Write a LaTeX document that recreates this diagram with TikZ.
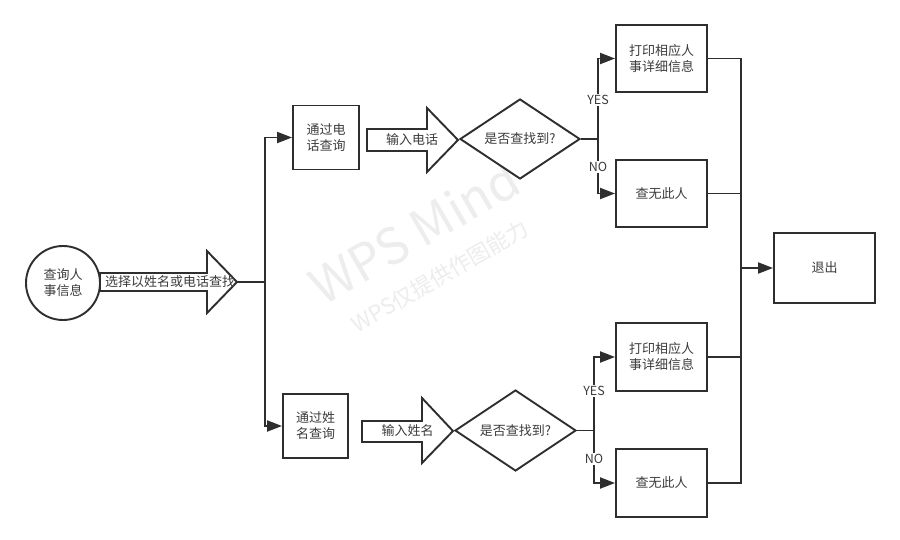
\documentclass[tikz,border=0pt]{standalone}
\usepackage{fontspec}
\setmainfont{Noto Sans CJK SC}
\usetikzlibrary{arrows.meta,shapes.geometric}
\definecolor{ln}{HTML}{2E2E2E}
\definecolor{tx}{HTML}{3C3C3C}
\definecolor{wm}{HTML}{EDEDED}
\begin{document}
\begin{tikzpicture}[x=1pt,y=-1pt,
  lbl/.style={font=\fontsize{13}{16}\selectfont, text=tx, align=center, inner sep=0pt},
  box/.style={lbl, draw=ln, line width=1.9pt, fill=white},
  dia/.style={lbl, draw=ln, line width=1.9pt, fill=white, diamond, aspect=1.5},
  bigarrow/.style={draw=ln, line width=1.9pt, fill=white, line join=miter},
  conn/.style={draw=ln, line width=1.9pt},
  arr/.style={conn, -{Triangle[length=15pt,width=11pt]}},
  yn/.style={font=\fontsize{12.5}{14}\selectfont, text=tx, fill=white, inner sep=1pt}
]
\useasboundingbox (0,0) rectangle (900,540);
\fill[white] (0,0) rectangle (900,540);
% watermark
\node[font=\fontsize{50}{56}\selectfont, text=wm, rotate=30] (wm1) at (414,232) {WPS Mind};
\node[font=\fontsize{22}{24}\selectfont, text=wm, rotate=30] (wm2) at (440,276) {WPS仅提供作图能力};

% start circle
\node[lbl, draw=ln, line width=1.9pt, circle, minimum size=74pt, fill=white] (start) at (63,283) {查询人\\事信息};

% big arrow 1
\draw[bigarrow] (100,273) -- (207,273) -- (207,251) -- (237,282) -- (207,313) -- (207,291) -- (100,291) -- cycle;
\coordinate (tip0) at (237,282);
\node[lbl] (a0) at (170,282) {选择以姓名或电话查找};

\coordinate (j1) at (265,282);
\draw[conn] (tip0) -- (j1);

% query boxes
\node[box, minimum width=66pt, minimum height=64pt] (q1) at (326,137.5) {通过电\\话查询};
\node[box, minimum width=65pt, minimum height=64pt] (q2) at (315.5,426) {通过姓\\名查询};
\draw[arr] (j1) |- (q1.west);
\draw[arr] (j1) |- (q2.west);

\draw[bigarrow] (367,129) -- (427,129) -- (427,108) -- (458,140) -- (427,172) -- (427,151) -- (367,151) -- cycle;
\node[lbl] (a1) at (412,140) {输入电话};
\draw[bigarrow] (362,421) -- (422,421) -- (422,398) -- (453,431) -- (422,463) -- (422,442) -- (362,442) -- cycle;
\node[lbl] (a2) at (407.5,431) {输入姓名};

\node[dia, minimum width=120pt, minimum height=80pt] (d1) at (520,139) {是否查找到?};
\node[dia, minimum width=121pt, minimum height=81pt] (d2) at (515.5,430.5) {是否查找到?};

\node[box, minimum width=91pt, minimum height=67pt] (p1) at (661.5,58.5) {打印相应人\\事详细信息};
\node[box, minimum width=91pt, minimum height=67pt] (n1) at (661.5,193.5) {查无此人};
\node[box, minimum width=91pt, minimum height=68pt] (p2) at (661.5,357) {打印相应人\\事详细信息};
\node[box, minimum width=91pt, minimum height=68pt] (n2) at (661.5,483) {查无此人};

\coordinate (j2) at (598,139);
\coordinate (j3) at (594,430.5);
\draw[conn] (d1.east) -- (j2);
\draw[conn] (d2.east) -- (j3);
\draw[arr] (j2) |- (p1.west);
\draw[arr] (j2) |- (n1.west);
\draw[arr] (j3) |- (p2.west);
\draw[arr] (j3) |- (n2.west);
\node[yn] (y1) at (598,100) {YES};
\node[yn] (no1) at (598,167) {NO};
\node[yn] (y2) at (594,391) {YES};
\node[yn] (no2) at (594,459) {NO};

% exit
\node[box, minimum width=101pt, minimum height=70pt] (ex) at (824.5,268) {退出};
\coordinate (m) at (741,268);
\draw[conn] (p1.east) -| (m);
\draw[conn] (n1.east) -| (m);
\draw[conn] (p2.east) -| (m);
\draw[conn] (n2.east) -| (m);
\draw[arr] (m) -- (ex.west);
\end{tikzpicture}
\end{document}
